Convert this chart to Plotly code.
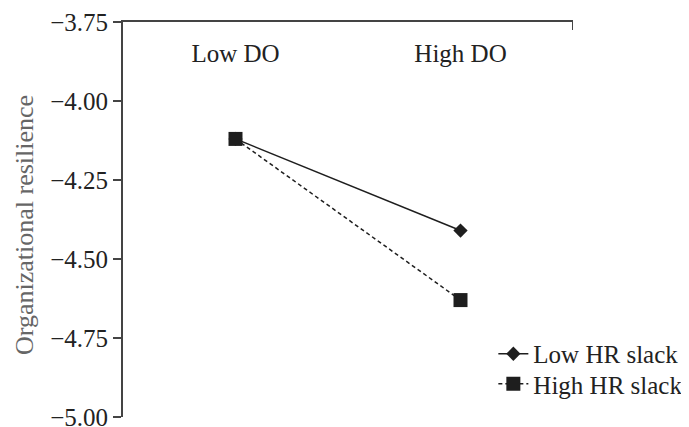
import plotly.graph_objects as go

categories = ["Low DO", "High DO"]
low_hr_slack = [-4.12, -4.41]
high_hr_slack = [-4.12, -4.63]
y_ticks = [-3.75, -4.00, -4.25, -4.50, -4.75, -5.00]
y_tick_labels = ["\u22123.75", "\u22124.00", "\u22124.25", "\u22124.50", "\u22124.75", "\u22125.00"]
y_title = "Organizational resilience"

x_pos = list(range(len(categories)))
ink = "#1e1e1e"
axis_col = "#444444"
font_family = "Liberation Serif"

fig = go.Figure()
fig.add_trace(go.Scatter(
    x=x_pos, y=low_hr_slack, mode="lines+markers", name="Low HR slack",
    line=dict(color=ink, width=1.5),
    marker=dict(symbol="diamond", size=11, color=ink),
    cliponaxis=False, legend="legend",
))
fig.add_trace(go.Scatter(
    x=x_pos, y=high_hr_slack, mode="lines+markers", name="High HR slack",
    line=dict(color=ink, width=1.5, dash="4px,3px"),
    marker=dict(symbol="square", size=14, color=ink),
    cliponaxis=False, legend="legend2",
))

legend_font = dict(family=font_family, size=25, color="#222222")

# page body has an 8px margin, so the figure is shrunk by 8px
fig.update_layout(
    width=681, height=419,
    margin=dict(l=115, r=116, t=14, b=10, autoexpand=False),
    paper_bgcolor="white", plot_bgcolor="white",
    font=dict(family=font_family, size=24, color="#222222"),
    showlegend=True,
    legend=dict(x=0.823, y=0.1595, xanchor="left", yanchor="middle",
                bgcolor="rgba(0,0,0,0)", font=legend_font),
    legend2=dict(x=0.823, y=0.0835, xanchor="left", yanchor="middle",
                 bgcolor="rgba(0,0,0,0)", font=legend_font),
    xaxis=dict(
        range=[-0.5, 1.5], side="top", tickmode="array",
        tickvals=x_pos, ticktext=categories,
        ticklabelposition="outside", ticks="", showgrid=False,
        ticklabelstandoff=-52,
        zeroline=False, showline=True, linecolor=axis_col, linewidth=2,
        tickfont=dict(family=font_family, size=25, color="#222222"),
        automargin=False,
    ),
    yaxis=dict(
        range=[-5.0, -3.75], tickmode="array", tickvals=y_ticks,
        ticktext=y_tick_labels, ticks="outside", ticklen=8, tickwidth=2,
        tickcolor=axis_col, showgrid=False, zeroline=False, showline=True,
        linecolor=axis_col, linewidth=2,
        tickfont=dict(family=font_family, size=25, color="#222222"),
        ticklabelstandoff=0, automargin=False, ticklabeloverflow="allow",
    ),
    annotations=[dict(
        text=y_title, textangle=-90, xref="paper", yref="paper",
        x=(16 - 115) / 450, y=(409 - 217) / 395,
        xanchor="center", yanchor="middle", showarrow=False,
        font=dict(family=font_family, size=26, color="#666666"),
    )],
)

# small end tick at right end of the top axis
fig.add_shape(type="line", xref="x", yref="paper", x0=1.5, x1=1.5,
              y0=1, y1=1 - 8 / 395, line=dict(color=axis_col, width=2))

fig.write_html("out.html")
